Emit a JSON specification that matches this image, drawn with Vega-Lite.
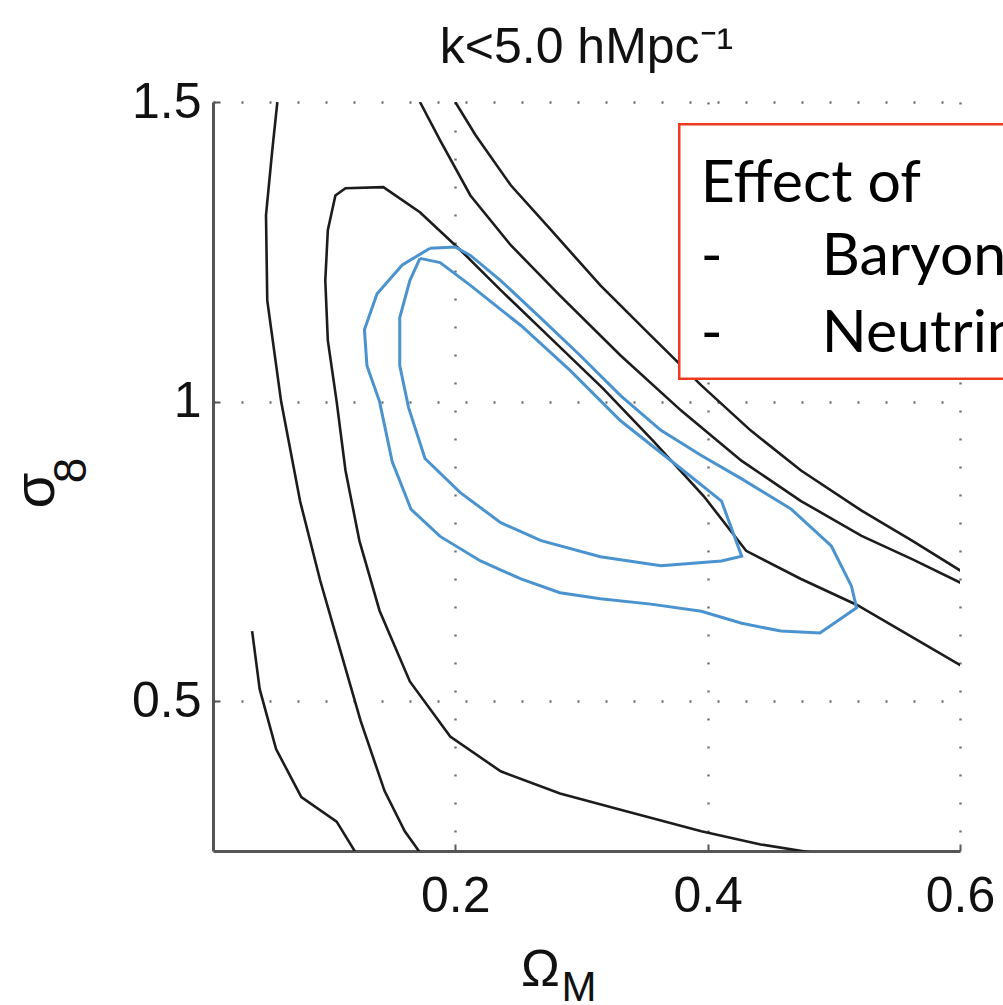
{
  "$schema": "https://vega.github.io/schema/vega-lite/v6.json",
  "width": 747,
  "height": 749,
  "autosize": "none",
  "padding": {"left": 213, "top": 102, "right": 43, "bottom": 154},
  "background": "white",
  "config": {
    "view": {"stroke": null},
    "font": "Liberation Sans",
    "axis": {
      "labelFont": "Liberation Sans",
      "labelFontSize": 50,
      "labelColor": "#111",
      "labelFlush": false,
      "labelOverlap": false,
      "titleFont": "Liberation Sans",
      "titleFontWeight": "normal",
      "titleColor": "#111",
      "domainColor": "#555",
      "domainWidth": 3,
      "tickColor": "#555",
      "tickWidth": 2,
      "tickSize": -7,
      "grid": true,
      "gridColor": "#6e6e6e",
      "gridWidth": 2.4,
      "gridDash": [2, 26],
      "gridOpacity": 1
    }
  },
  "title": {
    "text": "k<5.0 hMpc⁻¹",
    "font": "Liberation Sans",
    "fontSize": 50,
    "fontWeight": "normal",
    "color": "#111",
    "baseline": "alphabetic",
    "frame": "group",
    "anchor": "middle",
    "offset": 37,
    "dy": 73
  },
  "datasets": {
    "black": [
      {"c": "inner", "o": 1, "x": 0.601, "y": 0.559},
      {"c": "inner", "o": 2, "x": 0.554, "y": 0.617},
      {"c": "inner", "o": 3, "x": 0.518, "y": 0.661},
      {"c": "inner", "o": 4, "x": 0.474, "y": 0.704},
      {"c": "inner", "o": 5, "x": 0.4305, "y": 0.751},
      {"c": "inner", "o": 6, "x": 0.397, "y": 0.842},
      {"c": "inner", "o": 7, "x": 0.357, "y": 0.934},
      {"c": "inner", "o": 8, "x": 0.317, "y": 1.022},
      {"c": "inner", "o": 9, "x": 0.276, "y": 1.105},
      {"c": "inner", "o": 10, "x": 0.236, "y": 1.186},
      {"c": "inner", "o": 11, "x": 0.204, "y": 1.253},
      {"c": "inner", "o": 12, "x": 0.172, "y": 1.316},
      {"c": "inner", "o": 13, "x": 0.143, "y": 1.358},
      {"c": "inner", "o": 14, "x": 0.113, "y": 1.356},
      {"c": "inner", "o": 15, "x": 0.105, "y": 1.344},
      {"c": "inner", "o": 16, "x": 0.099, "y": 1.286},
      {"c": "inner", "o": 17, "x": 0.097, "y": 1.202},
      {"c": "inner", "o": 18, "x": 0.099, "y": 1.102},
      {"c": "inner", "o": 19, "x": 0.106, "y": 1.0},
      {"c": "inner", "o": 20, "x": 0.113, "y": 0.885},
      {"c": "inner", "o": 21, "x": 0.124, "y": 0.768},
      {"c": "inner", "o": 22, "x": 0.140, "y": 0.651},
      {"c": "inner", "o": 23, "x": 0.164, "y": 0.533},
      {"c": "inner", "o": 24, "x": 0.196, "y": 0.441},
      {"c": "inner", "o": 25, "x": 0.236, "y": 0.383},
      {"c": "inner", "o": 26, "x": 0.283, "y": 0.346},
      {"c": "inner", "o": 27, "x": 0.331, "y": 0.319},
      {"c": "inner", "o": 28, "x": 0.395, "y": 0.283},
      {"c": "inner", "o": 29, "x": 0.442, "y": 0.261},
      {"c": "inner", "o": 30, "x": 0.482, "y": 0.2475},
      {"c": "A", "o": 1, "x": 0.059, "y": 1.5},
      {"c": "A", "o": 2, "x": 0.055, "y": 1.42},
      {"c": "A", "o": 3, "x": 0.050, "y": 1.311},
      {"c": "A", "o": 4, "x": 0.051, "y": 1.169},
      {"c": "A", "o": 5, "x": 0.062, "y": 1.0},
      {"c": "A", "o": 6, "x": 0.077, "y": 0.834},
      {"c": "A", "o": 7, "x": 0.093, "y": 0.701},
      {"c": "A", "o": 8, "x": 0.109, "y": 0.584},
      {"c": "A", "o": 9, "x": 0.125, "y": 0.467},
      {"c": "A", "o": 10, "x": 0.144, "y": 0.35},
      {"c": "A", "o": 11, "x": 0.160, "y": 0.283},
      {"c": "A", "o": 12, "x": 0.172, "y": 0.2475},
      {"c": "B", "o": 1, "x": 0.039, "y": 0.617},
      {"c": "B", "o": 2, "x": 0.045, "y": 0.52},
      {"c": "B", "o": 3, "x": 0.058, "y": 0.42},
      {"c": "B", "o": 4, "x": 0.078, "y": 0.34},
      {"c": "B", "o": 5, "x": 0.106, "y": 0.299},
      {"c": "B", "o": 6, "x": 0.121, "y": 0.2475},
      {"c": "P", "o": 1, "x": 0.172, "y": 1.5},
      {"c": "P", "o": 2, "x": 0.188, "y": 1.436},
      {"c": "P", "o": 3, "x": 0.212, "y": 1.344},
      {"c": "P", "o": 4, "x": 0.244, "y": 1.261},
      {"c": "P", "o": 5, "x": 0.283, "y": 1.177},
      {"c": "P", "o": 6, "x": 0.331, "y": 1.077},
      {"c": "P", "o": 7, "x": 0.379, "y": 0.985},
      {"c": "P", "o": 8, "x": 0.427, "y": 0.901},
      {"c": "P", "o": 9, "x": 0.474, "y": 0.834},
      {"c": "P", "o": 10, "x": 0.522, "y": 0.776},
      {"c": "P", "o": 11, "x": 0.562, "y": 0.737},
      {"c": "P", "o": 12, "x": 0.601, "y": 0.697},
      {"c": "Q", "o": 1, "x": 0.200, "y": 1.5},
      {"c": "Q", "o": 2, "x": 0.216, "y": 1.445},
      {"c": "Q", "o": 3, "x": 0.244, "y": 1.361},
      {"c": "Q", "o": 4, "x": 0.276, "y": 1.286},
      {"c": "Q", "o": 5, "x": 0.315, "y": 1.194},
      {"c": "Q", "o": 6, "x": 0.355, "y": 1.110},
      {"c": "Q", "o": 7, "x": 0.395, "y": 1.027},
      {"c": "Q", "o": 8, "x": 0.434, "y": 0.952},
      {"c": "Q", "o": 9, "x": 0.474, "y": 0.885},
      {"c": "Q", "o": 10, "x": 0.522, "y": 0.818},
      {"c": "Q", "o": 11, "x": 0.562, "y": 0.768},
      {"c": "Q", "o": 12, "x": 0.601, "y": 0.717}
    ],
    "blue": [
      {"c": "outer", "o": 1, "x": 0.180, "y": 1.256},
      {"c": "outer", "o": 2, "x": 0.200, "y": 1.258},
      {"c": "outer", "o": 3, "x": 0.212, "y": 1.244},
      {"c": "outer", "o": 4, "x": 0.236, "y": 1.202},
      {"c": "outer", "o": 5, "x": 0.268, "y": 1.139},
      {"c": "outer", "o": 6, "x": 0.299, "y": 1.077},
      {"c": "outer", "o": 7, "x": 0.331, "y": 1.010},
      {"c": "outer", "o": 8, "x": 0.363, "y": 0.952},
      {"c": "outer", "o": 9, "x": 0.395, "y": 0.910},
      {"c": "outer", "o": 10, "x": 0.427, "y": 0.871},
      {"c": "outer", "o": 11, "x": 0.466, "y": 0.821},
      {"c": "outer", "o": 12, "x": 0.498, "y": 0.759},
      {"c": "outer", "o": 13, "x": 0.514, "y": 0.692},
      {"c": "outer", "o": 14, "x": 0.518, "y": 0.656},
      {"c": "outer", "o": 15, "x": 0.489, "y": 0.614},
      {"c": "outer", "o": 16, "x": 0.458, "y": 0.617},
      {"c": "outer", "o": 17, "x": 0.427, "y": 0.630},
      {"c": "outer", "o": 18, "x": 0.395, "y": 0.650},
      {"c": "outer", "o": 19, "x": 0.355, "y": 0.662},
      {"c": "outer", "o": 20, "x": 0.315, "y": 0.671},
      {"c": "outer", "o": 21, "x": 0.283, "y": 0.681},
      {"c": "outer", "o": 22, "x": 0.252, "y": 0.704},
      {"c": "outer", "o": 23, "x": 0.220, "y": 0.734},
      {"c": "outer", "o": 24, "x": 0.188, "y": 0.775},
      {"c": "outer", "o": 25, "x": 0.165, "y": 0.820},
      {"c": "outer", "o": 26, "x": 0.150, "y": 0.900},
      {"c": "outer", "o": 27, "x": 0.140, "y": 1.000},
      {"c": "outer", "o": 28, "x": 0.130, "y": 1.060},
      {"c": "outer", "o": 29, "x": 0.128, "y": 1.120},
      {"c": "outer", "o": 30, "x": 0.138, "y": 1.180},
      {"c": "outer", "o": 31, "x": 0.158, "y": 1.228},
      {"c": "outer", "o": 32, "x": 0.180, "y": 1.256},
      {"c": "inner", "o": 1, "x": 0.172, "y": 1.239},
      {"c": "inner", "o": 2, "x": 0.188, "y": 1.232},
      {"c": "inner", "o": 3, "x": 0.212, "y": 1.194},
      {"c": "inner", "o": 4, "x": 0.252, "y": 1.127},
      {"c": "inner", "o": 5, "x": 0.291, "y": 1.052},
      {"c": "inner", "o": 6, "x": 0.331, "y": 0.968},
      {"c": "inner", "o": 7, "x": 0.379, "y": 0.888},
      {"c": "inner", "o": 8, "x": 0.411, "y": 0.834},
      {"c": "inner", "o": 9, "x": 0.427, "y": 0.742},
      {"c": "inner", "o": 10, "x": 0.411, "y": 0.734},
      {"c": "inner", "o": 11, "x": 0.363, "y": 0.726},
      {"c": "inner", "o": 12, "x": 0.315, "y": 0.741},
      {"c": "inner", "o": 13, "x": 0.268, "y": 0.768},
      {"c": "inner", "o": 14, "x": 0.236, "y": 0.798},
      {"c": "inner", "o": 15, "x": 0.204, "y": 0.848},
      {"c": "inner", "o": 16, "x": 0.176, "y": 0.905},
      {"c": "inner", "o": 17, "x": 0.163, "y": 0.990},
      {"c": "inner", "o": 18, "x": 0.156, "y": 1.060},
      {"c": "inner", "o": 19, "x": 0.156, "y": 1.140},
      {"c": "inner", "o": 20, "x": 0.164, "y": 1.202},
      {"c": "inner", "o": 21, "x": 0.172, "y": 1.239}
    ],
    "boxtext": [
      {"t": "Effect of", "x": 0.3945, "y": 1.333},
      {"t": "-", "x": 0.3945, "y": 1.211},
      {"t": "Baryons", "x": 0.4905, "y": 1.211},
      {"t": "-", "x": 0.3945, "y": 1.082},
      {"t": "Neutrinos", "x": 0.4905, "y": 1.082}
    ]
  },
  "layer": [
    {
      "data": {"name": "black"},
      "mark": {"type": "line", "color": "#1c1c1c", "strokeWidth": 2.6, "clip": true},
      "encoding": {
        "x": {
          "field": "x", "type": "quantitative",
          "scale": {"domain": [0.008, 0.6], "nice": false, "zero": false},
          "axis": {
            "values": [0.2, 0.4, 0.6], "format": "~g", "labelPadding": 27,
            "title": "Ω", "titleFontSize": 52, "titleX": 327, "titleY": 134,
            "titleBaseline": "alphabetic", "titleAlign": "center", "titleAnchor": null
          }
        },
        "y": {
          "field": "y", "type": "quantitative",
          "scale": {"domain": [0.25, 1.5], "nice": false, "zero": false},
          "axis": {
            "values": [0.5, 1, 1.5], "format": "~g", "labelPadding": 19,
            "title": "σ", "titleFontSize": 58, "titleX": -177, "titleY": 388,
            "titleAngle": 270, "titleBaseline": "middle", "titleAlign": "center", "titleAnchor": null
          }
        },
        "detail": {"field": "c"},
        "order": {"field": "o", "type": "quantitative"}
      }
    },
    {
      "data": {"name": "blue"},
      "mark": {"type": "line", "color": "#4a93cf", "strokeWidth": 3, "clip": true},
      "encoding": {
        "x": {"field": "x", "type": "quantitative"},
        "y": {"field": "y", "type": "quantitative"},
        "detail": {"field": "c"},
        "order": {"field": "o", "type": "quantitative"}
      }
    },
    {
      "data": {"values": [{}]},
      "mark": {"type": "rect", "fill": "white", "stroke": "#ef3a22", "strokeWidth": 2.5, "clip": false},
      "encoding": {
        "x": {"datum": 0.3775},
        "x2": {"datum": 0.75},
        "y": {"datum": 1.463},
        "y2": {"datum": 1.038}
      }
    },
    {
      "data": {"name": "boxtext"},
      "mark": {"type": "text", "font": "Lato", "fontSize": 59, "align": "left", "baseline": "alphabetic", "color": "black", "clip": false},
      "encoding": {
        "x": {"field": "x", "type": "quantitative"},
        "y": {"field": "y", "type": "quantitative"},
        "text": {"field": "t"}
      }
    },
    {
      "data": {"values": [{}]},
      "mark": {"type": "text", "font": "Liberation Sans", "fontSize": 42, "align": "center", "baseline": "alphabetic", "color": "#111", "clip": false},
      "encoding": {
        "x": {"datum": 0.298},
        "y": {"datum": -0.0},
        "text": {"value": "M"}
      }
    },
    {
      "data": {"values": [{}]},
      "mark": {"type": "text", "font": "Liberation Sans", "fontSize": 46, "align": "center", "baseline": "middle", "angle": 270, "color": "#111", "clip": false},
      "encoding": {
        "x": {"datum": -0.104},
        "y": {"datum": 0.885},
        "text": {"value": "8"}
      }
    }
  ]
}
